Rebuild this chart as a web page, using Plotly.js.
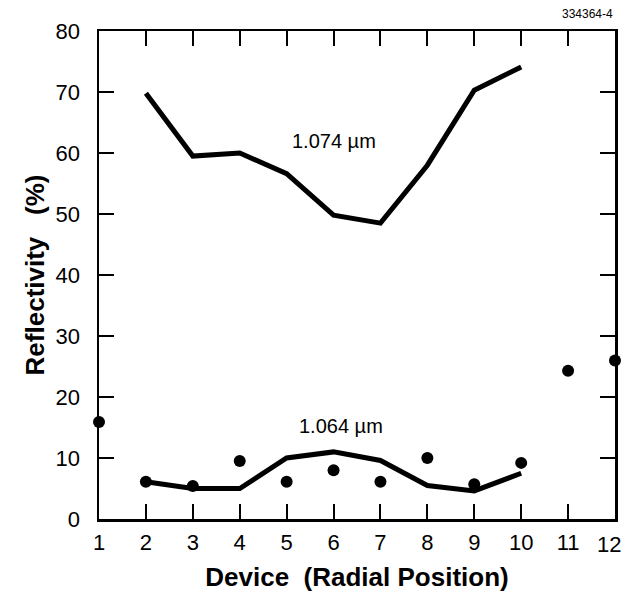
<!DOCTYPE html>
<html>
<head>
<meta charset="utf-8">
<script src="https://cdn.plot.ly/plotly-3.0.1.min.js"></script>
<style>html,body{margin:0;padding:0;background:#fff;}#chart{width:624px;height:592px;}</style>
</head>
<body>
<div id="chart"></div>
<script>
// Device positions
const devices1074 = [2, 3, 4, 5, 6, 7, 8, 9, 10];
const refl1074 = [69.8, 59.5, 60.0, 56.6, 49.8, 48.5, 58.0, 70.3, 74.1];

const devices1064Line = [2, 3, 4, 5, 6, 7, 8, 9, 10];
const refl1064Line = [6.1, 5.0, 5.0, 10.0, 11.0, 9.6, 5.5, 4.6, 7.5];

const devicesMeasured = [1, 2, 3, 4, 5, 6, 7, 8, 9, 10, 11, 12];
const reflMeasured = [15.9, 6.1, 5.4, 9.5, 6.1, 8.0, 6.1, 10.0, 5.7, 9.2, 24.3, 26.0];

const xTicks = [1, 2, 3, 4, 5, 6, 7, 8, 9, 10, 11, 12];
const yTicks = [0, 10, 20, 30, 40, 50, 60, 70, 80];

const font = 'Liberation Sans, Arial, Helvetica, sans-serif';
const lastTick = xTicks[xTicks.length - 1];

const traces = [
  {x: devices1074, y: refl1074, mode: 'lines', line: {color: '#000', width: 5}, cliponaxis: false, showlegend: false},
  {x: devices1064Line, y: refl1064Line, mode: 'lines', line: {color: '#000', width: 5}, cliponaxis: false, showlegend: false},
  {x: devicesMeasured, y: reflMeasured, mode: 'markers', marker: {color: '#000', size: 12}, cliponaxis: false, showlegend: false}
];

const layout = {
  width: 624, height: 592,
  margin: {l: 99, r: 9, t: 31, b: 73, pad: 0},
  paper_bgcolor: '#fff', plot_bgcolor: '#fff',
  font: {family: font, color: '#000', size: 22},
  showlegend: false,
  xaxis: {
    range: [1, 12], tickvals: xTicks,
    ticktext: xTicks.map(v => v === lastTick ? '' : String(v)),
    ticks: 'inside', ticklen: 15, tickwidth: 2, tickcolor: '#000',
    showline: true, linewidth: 2.5, linecolor: '#000', mirror: 'ticks',
    showgrid: false, zeroline: false, ticklabelstandoff: 2,
    tickfont: {family: font, size: 22, color: '#000'},
    title: {text: '<b>Device&nbsp;&nbsp;(Radial Position)</b>', font: {family: font, size: 26, color: '#000'}, standoff: 14}
  },
  yaxis: {
    range: [0, 80], tickvals: yTicks, ticktext: yTicks.map(String),
    ticks: 'inside', ticklen: 15, tickwidth: 2, tickcolor: '#000',
    showline: true, linewidth: 2.5, linecolor: '#000', mirror: 'ticks',
    showgrid: false, zeroline: false, ticklabelstandoff: 12,
    tickfont: {family: font, size: 22, color: '#000'},
    title: {text: '<b>Reflectivity&nbsp;&nbsp;&nbsp;(%)</b>', font: {family: font, size: 26, color: '#000'}, standoff: 4}
  },
  annotations: [
    {x: 6, y: 62, xref: 'x', yref: 'y', text: '1.074 \u00b5m', showarrow: false, font: {family: font, size: 20, color: '#000'}},
    {x: 6.15, y: 15.3, xref: 'x', yref: 'y', text: '1.064 \u00b5m', showarrow: false, font: {family: font, size: 20, color: '#000'}},
    {x: lastTick, y: 0, xref: 'x', yref: 'paper', text: String(lastTick), showarrow: false, xanchor: 'right', yanchor: 'top', xshift: 8, yshift: -11, font: {family: font, size: 22, color: '#000'}},
    {x: 1, y: 1, xref: 'paper', yref: 'paper', yshift: 17, text: '334364-4', showarrow: false, xanchor: 'right', yanchor: 'middle', font: {family: font, size: 12, color: '#000'}}
  ]
};

Plotly.newPlot('chart', traces, layout, {displayModeBar: false, staticPlot: true});
</script>
</body>
</html>
